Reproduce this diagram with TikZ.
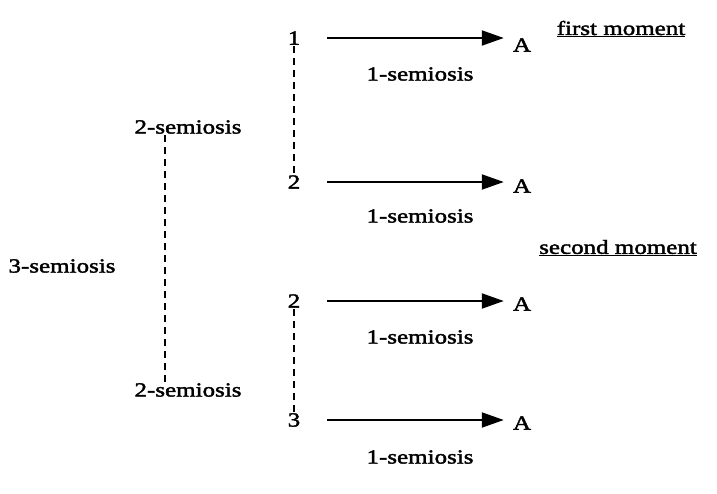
\documentclass[tikz,border=0pt]{standalone}
\usepackage{fontspec}
\setmainfont{Liberation Serif}
\newfontfamily\heavyfont{Liberation Serif}[FakeStretch=1.25, RawFeature={embolden=2}]
\usetikzlibrary{arrows.meta}
\begin{document}
\begin{tikzpicture}[x=1pt,y=-1pt,
  txt/.style={font=\fontsize{20}{23}\selectfont\heavyfont, inner sep=1pt},
  arr/.style={-{Triangle[length=22pt,width=15pt]}, line width=2pt, shorten <=26pt, shorten >=8pt},
  dsh/.style={dash pattern=on 7pt off 5pt, line width=2.6pt}]
\useasboundingbox (0,0) rectangle (717,493);
% upper pair
\node[txt] (n1) at (294,38) {1};
\node[txt] (a1) at (522,45) {A};
\node[txt] (fm) at (621,29) {\underline{first moment}};
\node[txt] (s1) at (420,74) {1-semiosis};
\node[txt] (n2) at (294,182) {2};
\node[txt] (a2) at (522,186) {A};
\node[txt] (s2) at (420,216) {1-semiosis};
% lower pair
\node[txt] (sm) at (618,248) {\underline{second moment}};
\node[txt] (n3) at (294,301) {2};
\node[txt] (a3) at (522,304) {A};
\node[txt] (s3) at (420,337) {1-semiosis};
\node[txt] (n4) at (294,420) {3};
\node[txt] (a4) at (522,423) {A};
\node[txt] (s4) at (420,457) {1-semiosis};
% left
\node[txt] (t2a) at (188,127) {2-semiosis};
\node[txt] (t2b) at (188,390) {2-semiosis};
\node[txt] (t3) at (62,266) {3-semiosis};
% arrows
\draw[arr] (n1.east) -- (n1.east -| a1.west);
\draw[arr] (n2.east) -- (n2.east -| a2.west);
\draw[arr] (n3.east) -- (n3.east -| a3.west);
\draw[arr] (n4.east) -- (n4.east -| a4.west);
% dashed links
\draw[dsh] (n1.south) -- (n2.north);
\draw[dsh] (n3.south) -- (n4.north);
\draw[dsh] ([xshift=-23pt]t2a.south) -- ([xshift=-23pt]t2b.north);
\end{tikzpicture}
\end{document}
